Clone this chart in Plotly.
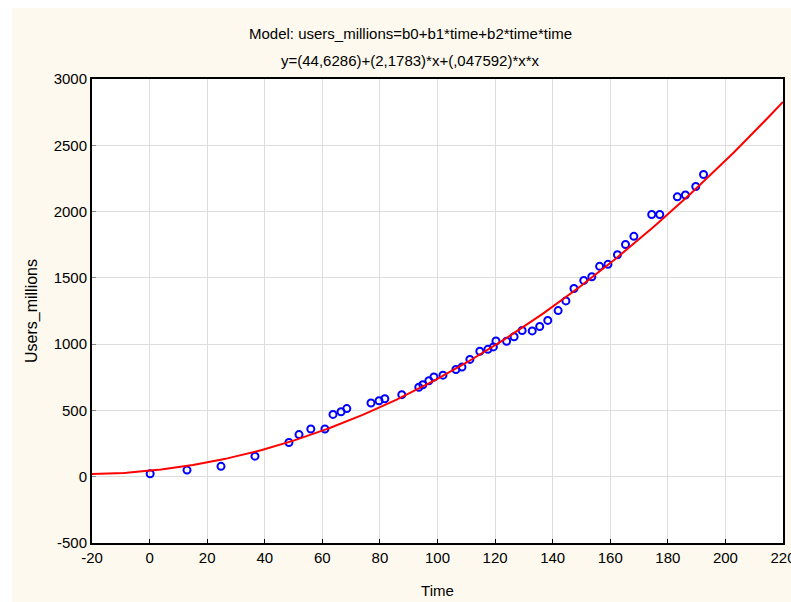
import numpy as np
import plotly.graph_objects as go

time = [0.2, 13, 24.8, 36.6, 48.4, 51.9, 56, 60.9, 63.7, 66.5, 68.5, 76.9, 79.7, 81.7,
        87.6, 93.5, 94.9, 97, 98.75, 101.9, 106.4, 108.5, 111.25, 114.7, 117.5, 119.4,
        120.3, 124, 126.6, 129.4, 132.9, 135.5, 138.3, 141.9, 144.6, 147.4, 150.8,
        153.6, 156.3, 159.2, 162.5, 165.3, 168.2, 174.4, 177.2, 183.3, 186.1, 189.7, 192.4]
users_millions = [22, 50, 78, 155, 258, 318, 360, 360, 470, 490, 514, 556, 573, 588,
                  619, 675, 694, 724, 752, 766, 809, 827, 885, 946, 961, 979,
                  1024, 1022, 1056, 1103, 1100, 1133, 1179, 1253, 1326, 1420, 1481,
                  1508, 1587, 1602, 1674, 1752, 1813, 1978, 1978, 2111, 2125, 2189, 2280]

# Model coefficients (from the chart's equation)
b0, b1, b2 = 44.6286, 2.1783, 0.047592

title_line1 = "Model: users_millions=b0+b1*time+b2*time*time"
title_line2 = "y=(44,6286)+(2,1783)*x+(,047592)*x*x"

x_ticks = list(range(-20, 221, 20))
x_labels = [str(v) for v in x_ticks]
y_ticks = list(range(-500, 3001, 500))
y_labels = [str(v) for v in y_ticks]

xf = np.linspace(-20, 220, 241)
yf = b0 + b1 * xf + b2 * xf * xf

FONT = "Liberation Sans, Arial, sans-serif"
CREAM = "#FDF9EE"
FS = 15

fig = go.Figure()
fig.add_trace(go.Scatter(x=time, y=users_millions, mode="markers",
                         marker=dict(symbol="circle-open", size=7, color="#0000FF",
                                     line=dict(width=2, color="#0000FF")),
                         showlegend=False, cliponaxis=False))
fig.add_trace(go.Scatter(x=xf, y=yf, mode="lines",
                         line=dict(color="#FF0000", width=2), showlegend=False))

W, H = 791, 602
L, R, T, B = 92, 8, 79, 59
pw, ph = W - L - R, H - T - B

def px2x(p):
    return (p - L) / pw

def py2y(p):
    return (H - B - p) / ph

fig.update_layout(
    width=W, height=H,
    margin=dict(l=L, r=R, t=T, b=B, autoexpand=False),
    paper_bgcolor=CREAM, plot_bgcolor="white",
    font=dict(family=FONT, size=FS, color="black"),
    xaxis=dict(range=[-20, 220], tickvals=x_ticks, ticktext=x_labels, showgrid=True,
               gridcolor="#DDDDDD", gridwidth=1, zeroline=False, showline=True, mirror=True,
               linecolor="black", linewidth=2, ticks="inside", ticklen=4, tickcolor="black",
               ticklabeloverflow="allow", automargin=False,
               title=dict(text="Time", standoff=20, font=dict(size=FS)), tickfont=dict(size=FS)),
    yaxis=dict(range=[-500, 3000], tickvals=y_ticks, ticktext=y_labels, showgrid=True,
               gridcolor="#DDDDDD", gridwidth=1, zeroline=False, showline=True, mirror=True,
               linecolor="black", linewidth=2, ticks="inside", ticklen=4, tickcolor="#888888",
               ticklabeloverflow="allow", automargin=False,
               title=dict(text="Users_millions", standoff=12, font=dict(size=16)),
               tickfont=dict(size=FS)),
    annotations=[
        dict(text=title_line1, x=px2x(410), y=py2y(33), xref="paper", yref="paper",
             showarrow=False, xanchor="center", yanchor="middle", font=dict(size=FS)),
        dict(text=title_line2, x=px2x(410), y=py2y(60), xref="paper", yref="paper",
             showarrow=False, xanchor="center", yanchor="middle", font=dict(size=FS)),
    ],
    shapes=[
        dict(type="rect", xref="paper", yref="paper", x0=px2x(0), x1=px2x(W),
             y0=py2y(8), y1=py2y(0), fillcolor="white", line=dict(width=0), layer="below"),
        dict(type="rect", xref="paper", yref="paper", x0=px2x(0), x1=px2x(12),
             y0=py2y(H), y1=py2y(0), fillcolor="white", line=dict(width=0), layer="below"),
    ],
)

fig.write_html("out.html")
